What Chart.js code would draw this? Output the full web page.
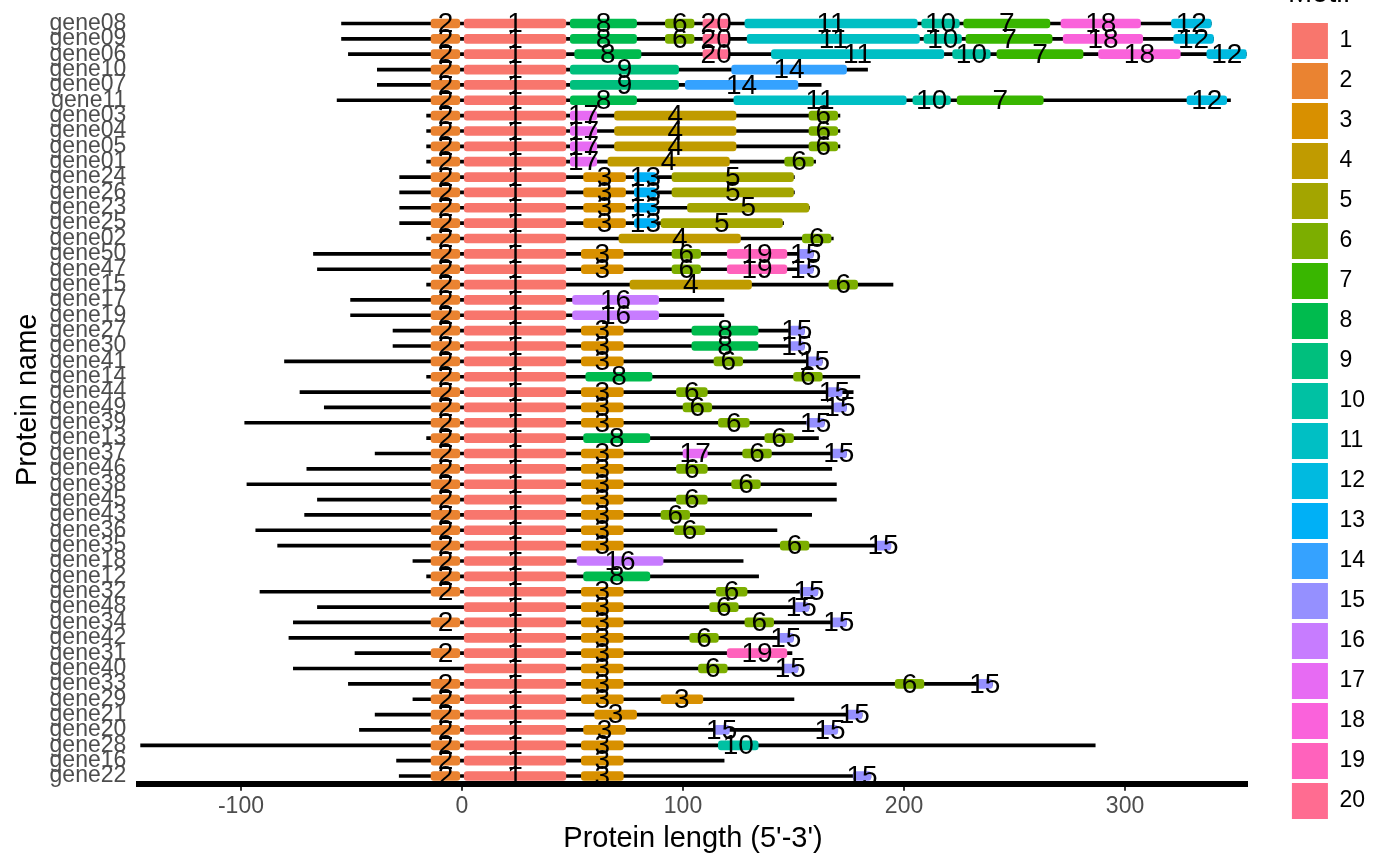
<!DOCTYPE html>
<html><head><meta charset="utf-8">
<script src="https://cdn.jsdelivr.net/npm/chart.js@4"></script>
<style>html,body{margin:0;padding:0;background:#fff;} #wrap{width:1400px;height:866px;}</style>
</head><body><div id="wrap"><canvas id="c" width="1400" height="866"></canvas></div>
<script>
const genes = ['gene08','gene09','gene06','gene10','gene07','gene11','gene03','gene04','gene05','gene01',
  'gene24','gene26','gene23','gene25','gene02','gene50','gene47','gene15','gene17','gene19',
  'gene27','gene30','gene41','gene14','gene44','gene49','gene39','gene13','gene37','gene46',
  'gene38','gene45','gene43','gene36','gene35','gene18','gene12','gene32','gene48','gene34',
  'gene42','gene31','gene40','gene33','gene29','gene21','gene20','gene28','gene16','gene22'];
const geneStart = [-54.5,-54.5,-51.4,-38.3,-38.3,-56.5,-16,-16,-16,-16,
  -28.2,-28.2,-28.2,-28.2,-16,-67.2,-65.4,-16,-50.4,-50.4,
  -31.2,-31.2,-80.3,-16,-73.3,-62.3,-98.3,-16,-39.3,-70.2,
  -97.3,-65.4,-71.2,-93.3,-83.4,-22.2,-16,-91.4,-65.4,-76.3,
  -78.3,-48.4,-76.3,-51.4,-22.2,-39.3,-46.4,-145.4,-29.6,-28.4];
const geneEnd = [339,340,355,183.5,162.5,347.7,171,171,171,160,
  150.4,150.4,157.2,145.5,168,159,159,195,118.5,118.5,
  155,155,163,180,177,174,164,161.3,174,167.3,
  169.4,169.4,158.2,142.5,194,127.2,134.2,161,157,174,
  150,149.3,152,240,150.2,181,170,286.5,118.6,185];
const motifIds = [1,2,3,4,5,6,7,8,9,10,11,12,13,14,15,16,17,18,19,20];
// per gene: [motif, start, end]
const geneHits = [
  [[2,-14,-1],[1,1,47],[8,49,79],[6,92,105],[20,109,121],[11,128,206],[10,208,225],[7,227,266],[18,271,307],[12,321,339]],
  [[2,-14,-1],[1,1,47],[8,49,79],[6,92,105],[20,109,121],[11,129,207],[10,209,226],[7,228,267],[18,272,308],[12,322,340]],
  [[2,-14,-1],[1,1,47],[8,51,81],[20,109,121],[11,140,218],[10,222,239],[7,242,281],[18,288,325],[12,337,355]],
  [[2,-14,-1],[1,1,47],[9,49,98],[14,122,174]],
  [[2,-14,-1],[1,1,47],[9,49,98],[14,101,152]],
  [[2,-14,-1],[1,1,47],[8,49,79],[11,123,201],[10,204,221],[7,224,263],[12,328,346]],
  [[2,-14,-1],[1,1,47],[17,49,61],[4,69,124],[6,157,170]],
  [[2,-14,-1],[1,1,47],[17,49,61],[4,69,124],[6,157,170]],
  [[2,-14,-1],[1,1,47],[17,49,61],[4,69,124],[6,157,170]],
  [[2,-14,-1],[1,1,47],[17,49,61],[4,66,121],[6,146,159]],
  [[2,-14,-1],[1,1,47],[3,55,74],[13,78,88],[5,95,150]],
  [[2,-14,-1],[1,1,47],[3,55,74],[13,78,88],[5,95,150]],
  [[2,-14,-1],[1,1,47],[3,55,74],[13,78,88],[5,102,157]],
  [[2,-14,-1],[1,1,47],[3,55,74],[13,78,88],[5,90,145]],
  [[2,-14,-1],[1,1,47],[4,71,126],[6,154,167]],
  [[2,-14,-1],[1,1,47],[3,54,73],[6,95,108],[19,120,147],[15,152,159]],
  [[2,-14,-1],[1,1,47],[3,54,73],[6,95,108],[19,120,147],[15,152,159]],
  [[2,-14,-1],[1,1,47],[4,76,131],[6,166,179]],
  [[2,-14,-1],[1,1,47],[16,50,89]],
  [[2,-14,-1],[1,1,47],[16,50,89]],
  [[2,-14,-1],[1,1,47],[3,54,73],[8,104,134],[15,148,155]],
  [[2,-14,-1],[1,1,47],[3,54,73],[8,104,134],[15,148,155]],
  [[2,-14,-1],[1,1,47],[3,54,73],[6,114,127],[15,156,163]],
  [[2,-14,-1],[1,1,47],[8,56,86],[6,150,163]],
  [[2,-14,-1],[1,1,47],[3,54,73],[6,97,111],[15,165,172]],
  [[2,-14,-1],[1,1,47],[3,54,73],[6,100,113],[15,168,174]],
  [[2,-14,-1],[1,1,47],[3,54,73],[6,116,130],[15,156,164]],
  [[2,-14,-1],[1,1,47],[8,55,85],[6,137,150]],
  [[2,-14,-1],[1,1,47],[3,54,73],[17,100,111],[6,127,140],[15,167,174]],
  [[2,-14,-1],[1,1,47],[3,54,73],[6,97,111]],
  [[2,-14,-1],[1,1,47],[3,54,73],[6,122,135]],
  [[2,-14,-1],[1,1,47],[3,54,73],[6,97,111]],
  [[2,-14,-1],[1,1,47],[3,54,73],[6,90,103]],
  [[2,-14,-1],[1,1,47],[3,54,73],[6,96,110]],
  [[2,-14,-1],[1,1,47],[3,54,73],[6,144,157],[15,187,194]],
  [[2,-14,-1],[1,1,47],[16,52,91]],
  [[2,-14,-1],[1,1,47],[8,55,85]],
  [[2,-14,-1],[1,1,47],[3,54,73],[6,115,129],[15,153,161]],
  [[1,1,47],[3,54,73],[6,112,125],[15,150,157]],
  [[2,-14,-1],[1,1,47],[3,54,73],[6,128,141],[15,167,174]],
  [[1,1,47],[3,54,73],[6,103,116],[15,143,150]],
  [[2,-14,-1],[1,1,47],[3,54,73],[19,120,147]],
  [[1,1,47],[3,54,73],[6,107,120],[15,145,152]],
  [[2,-14,-1],[1,1,47],[3,54,73],[6,196,209],[15,233,240]],
  [[2,-14,-1],[1,1,47],[3,54,73],[3,90,109]],
  [[2,-14,-1],[1,1,47],[3,60,79],[15,174,181]],
  [[2,-14,-1],[1,1,47],[3,55,74],[15,114,121],[15,163,170]],
  [[2,-14,-1],[1,1,47],[3,54,73],[10,116,134]],
  [[2,-14,-1],[1,1,47],[3,54,73]],
  [[2,-14,-1],[1,1,47],[3,54,73],[15,177,185]]
];
const tickValues = [-100, 0, 100, 200, 300];

const motifColors = ['#F8766D','#EA8331','#D89000','#C09B00','#A3A500','#7CAE00','#39B600','#00BB4E','#00BF7D','#00C1A3',
  '#00BFC4','#00BAE0','#00B0F6','#35A2FF','#9590FF','#C77CFF','#E76BF3','#FA62DB','#FF62BC','#FF6C91'];
const FONT = "'Liberation Sans', Arial, sans-serif";
const n = genes.length;

const baseStyle = {barThickness: 9, borderRadius: 3, borderSkipped: false, borderWidth: 0, grouped: false, order: 0};
const motifSets = motifIds.map((m, i) => Object.assign({label: String(m), data: new Array(n).fill(null), backgroundColor: motifColors[i], motif: m, isExtra: false}, baseStyle));
const extraSets = [];
geneHits.forEach((hits, gi) => hits.forEach(([m, s, e]) => {
  let ds = motifSets[m - 1];
  if (ds.data[gi] !== null) {
    ds = extraSets.find(d => d.motif === m && d.data[gi] === null);
    if (!ds) {
      ds = Object.assign({label: String(m), data: new Array(n).fill(null), backgroundColor: motifColors[m - 1], motif: m, isExtra: true}, baseStyle);
      extraSets.push(ds);
    }
  }
  ds.data[gi] = [s, e];
}));
const backbone = {label: 'backbone', data: genes.map((g, i) => [geneStart[i], geneEnd[i]]), backgroundColor: '#000000',
  barThickness: 3, borderWidth: 0, borderSkipped: false, grouped: false, order: 1, isExtra: true};

const motifLabels = {
  id: 'motifLabels',
  afterDatasetsDraw(chart) {
    const {ctx, scales: {x, y}} = chart;
    ctx.save();
    ctx.font = '28px ' + FONT;
    ctx.fillStyle = '#000';
    ctx.textAlign = 'center';
    ctx.textBaseline = 'middle';
    geneHits.forEach((hits, gi) => {
      const py = y.getPixelForValue(gi);
      hits.forEach(([m, s, e]) => ctx.fillText(String(m), x.getPixelForValue((s + e) / 2), py + 1));
    });
    ctx.restore();
  }
};

new Chart(document.getElementById('c'), {
  type: 'bar',
  data: {labels: genes, datasets: [...motifSets, ...extraSets, backbone]},
  options: {
    indexAxis: 'y',
    responsive: false,
    animation: false,
    devicePixelRatio: 1,
    layout: {padding: {top: 0, right: 25, bottom: 0, left: 0}},
    plugins: {
      tooltip: {enabled: false},
      legend: {
        position: 'right', align: 'center',
        labels: {boxWidth: 36, boxHeight: 36, padding: 4, color: '#000', font: {size: 23, family: FONT},
          filter: (item, data) => !data.datasets[item.datasetIndex].isExtra},
        title: {display: true, text: 'Motif', position: 'start', color: '#000', font: {size: 29, family: FONT},
          padding: {top: -63.5, bottom: 4.7}}
      }
    },
    scales: {
      x: {
        type: 'linear', position: 'bottom', min: -146, max: 355,
        afterBuildTicks: s => { s.ticks = tickValues.map(v => ({value: v})); },
        afterFit: s => { s.height = 82.3; },
        grid: {display: true, drawOnChartArea: false, drawTicks: true, tickLength: 7, tickWidth: 2, tickColor: '#333333', color: '#333333', lineWidth: 2},
        border: {display: true, color: '#000', width: 6},
        ticks: {font: {size: 23, family: FONT}, color: '#4d4d4d', padding: 2},
        title: {display: true, text: "Protein length (5'-3')", color: '#000', font: {size: 29, family: FONT}, padding: {top: 0, bottom: 9.6}}
      },
      xTop: {
        type: 'linear', position: 'top', display: true,
        afterFit: s => { s.height = 15.8; s.paddingLeft = 0; s.paddingRight = 0; },
        grid: {display: false, drawTicks: false}, border: {display: false}, ticks: {display: false}
      },
      y: {
        type: 'category', position: 'left', offset: true,
        afterFit: s => { s.width = 139.3; s.paddingTop = 0; s.paddingBottom = 0; },
        grid: {display: false, drawTicks: false},
        border: {display: false},
        ticks: {font: {size: 23, family: FONT}, color: '#4d4d4d', padding: 13, autoSkip: false},
        title: {display: true, text: 'Protein name', color: '#000', font: {size: 29, family: FONT}, padding: {top: 11, bottom: 0}}
      },
      yR: {
        type: 'linear', position: 'right', display: true,
        afterFit: s => { s.width = 41.3; s.paddingTop = 0; s.paddingBottom = 0; },
        grid: {display: false, drawTicks: false}, border: {display: false}, ticks: {display: false}
      }
    }
  },
  plugins: [motifLabels]
});
</script>
</body></html>
